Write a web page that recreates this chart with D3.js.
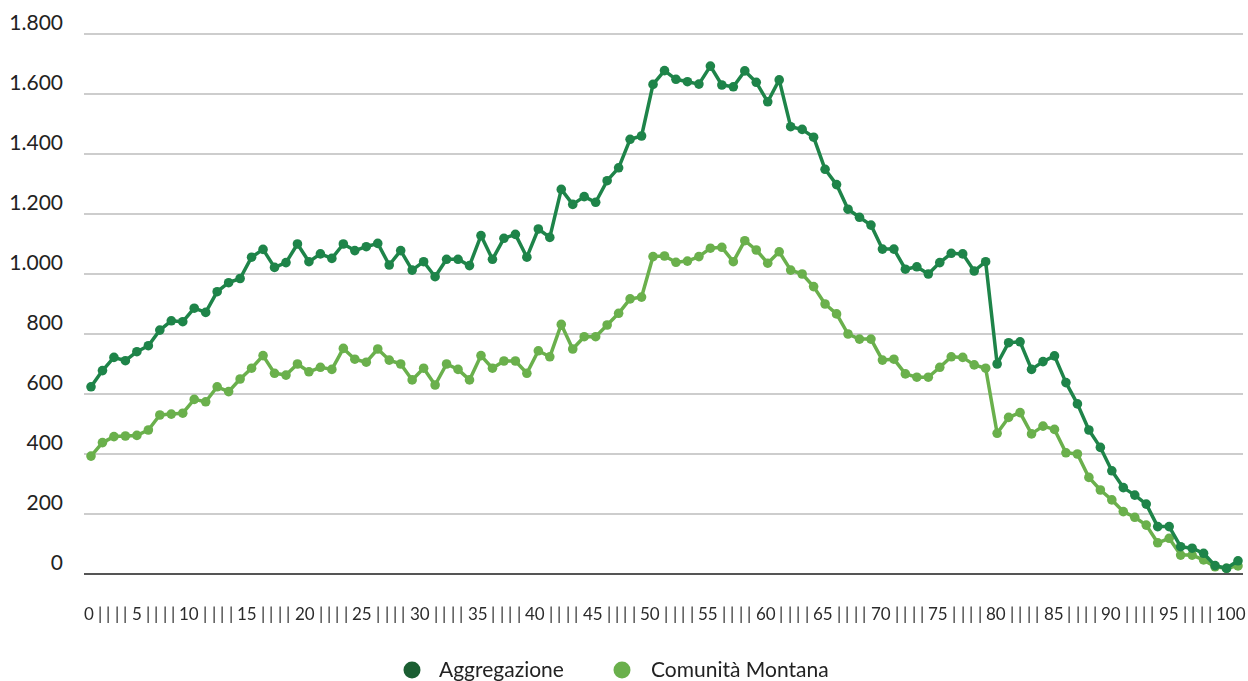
<!DOCTYPE html>
<html>
<head>
<meta charset="utf-8">
<script src="https://cdn.jsdelivr.net/npm/d3@7"></script>
<style>
  html, body { margin: 0; padding: 0; background: #fff; }
  svg { display: block; font-family: Lato, "Open Sans", sans-serif; }
  .xlabels { opacity: 0.995; will-change: transform; }
</style>
</head>
<body>
<svg id="chart" width="1248" height="681"></svg>
<script>
const categories = d3.range(0, 101);
const xTickLabels = categories.map(d => d % 5 === 0 ? String(d) : "|");
const yTicks = [0, 200, 400, 600, 800, 1000, 1200, 1400, 1600, 1800];
const seriesNames = ["Aggregazione", "Comunità Montana"];

const aggregazione = [
  624, 678, 722, 711, 741, 761, 813, 844, 841, 886,
  872, 941, 971, 985, 1056, 1082, 1022, 1038, 1100, 1041,
  1067, 1052, 1100, 1078, 1091, 1102, 1030, 1078, 1013, 1041,
  991, 1049, 1049, 1028, 1128, 1049, 1119, 1132, 1056, 1150,
  1122, 1282, 1232, 1258, 1239, 1311, 1354, 1449, 1460, 1632,
  1678, 1649, 1641, 1633, 1693, 1630, 1624, 1677, 1639, 1574,
  1647, 1491, 1482, 1456, 1349, 1298, 1216, 1189, 1163, 1083,
  1083, 1016, 1024, 1000, 1038, 1069, 1067, 1010, 1041, 700,
  771, 774, 682, 708, 727, 638, 567, 480, 422, 344,
  288, 263, 233, 158, 158, 91, 86, 69, 28, 19,
  44
];
const comunitaMontana = [
  393, 438, 458, 460, 462, 480, 530, 533, 536, 582,
  574, 624, 608, 650, 686, 728, 669, 663, 700, 674,
  689, 682, 752, 716, 706, 750, 713, 700, 647, 686,
  630, 700, 682, 647, 728, 686, 710, 710, 669, 744,
  724, 832, 750, 791, 791, 830, 869, 917, 923, 1058,
  1060, 1039, 1043, 1058, 1086, 1089, 1041, 1111, 1080, 1036,
  1074, 1013, 1000, 958, 900, 867, 800, 783, 783, 713,
  716, 667, 656, 656, 689, 724, 722, 697, 686, 469,
  522, 538, 467, 493, 482, 404, 400, 322, 280, 247,
  208, 189, 163, 104, 119, 63, 63, 47, 24, 19,
  27
];

const lineColors = ["#1e8449", "#6ab04c"];
const legendColors = ["#1b5e32", "#6ab04c"];

const svg = d3.select("#chart");

const x = d3.scalePoint().domain(categories).range([91, 1238]);
const y = d3.scaleLinear().domain([0, 1800]).range([574, 34]);

// gridlines
svg.append("g").selectAll("line")
  .data(yTicks.filter(d => d !== 0))
  .join("line")
  .attr("x1", 84).attr("x2", 1243)
  .attr("y1", d => y(d)).attr("y2", d => y(d))
  .attr("stroke", "#bdbdbd").attr("stroke-width", 1.5);

// y labels
svg.append("g").selectAll("text")
  .data(yTicks)
  .join("text")
  .attr("x", 63)
  .attr("y", d => y(d) - 4)
  .attr("text-anchor", "end")
  .attr("font-size", 21)
  .attr("fill", "#222")
  .text(d => d3.format(",")(d).replace(/,/g, "."));

// x labels: laid out as a continuous run of labels, spread across the axis width
const xl = svg.append("g").attr("class", "xlabels");
const labelNodes = xl.selectAll("text")
  .data(xTickLabels)
  .join("text")
  .attr("y", 620)
  .attr("font-size", 17)
  .attr("fill", "#2a2a2a")
  .text(d => d);
const widths = labelNodes.nodes().map(n => n.getComputedTextLength());
const xStart = 84, xEnd = 1246;
const totalW = d3.sum(widths);
const gap = (xEnd - xStart - totalW) / (xTickLabels.length - 1);
let cursor = xStart;
const starts = widths.map(w => { const s = cursor; cursor += w + gap; return s; });
labelNodes.attr("x", (d, i) => Math.round(starts[i]));

// baseline
svg.append("line")
  .attr("x1", 84).attr("x2", 1243)
  .attr("y1", y(0)).attr("y2", y(0))
  .attr("stroke", "#555").attr("stroke-width", 2);

const series = [aggregazione, comunitaMontana];
const line = d3.line().x((d, i) => x(categories[i])).y(d => y(d));

[1, 0].forEach(si => {
  const g = svg.append("g");
  g.append("path")
    .datum(series[si])
    .attr("d", line)
    .attr("fill", "none")
    .attr("stroke", lineColors[si])
    .attr("stroke-width", 3.5)
    .attr("stroke-linejoin", "round");
  g.selectAll("circle")
    .data(series[si])
    .join("circle")
    .attr("cx", (d, i) => x(categories[i]))
    .attr("cy", d => y(d))
    .attr("r", 4.8)
    .attr("fill", lineColors[si]);
});

// legend
const legendItems = [
  { cx: 412, tx: 439 },
  { cx: 622, tx: 651 }
];
const lg = svg.append("g");
seriesNames.forEach((name, i) => {
  lg.append("circle")
    .attr("cx", legendItems[i].cx).attr("cy", 670)
    .attr("r", 8.5).attr("fill", legendColors[i]);
  lg.append("text")
    .attr("x", legendItems[i].tx).attr("y", 670)
    .attr("dy", "0.35em")
    .attr("font-size", 21)
    .attr("fill", "#222")
    .text(name);
});
</script>
</body>
</html>
